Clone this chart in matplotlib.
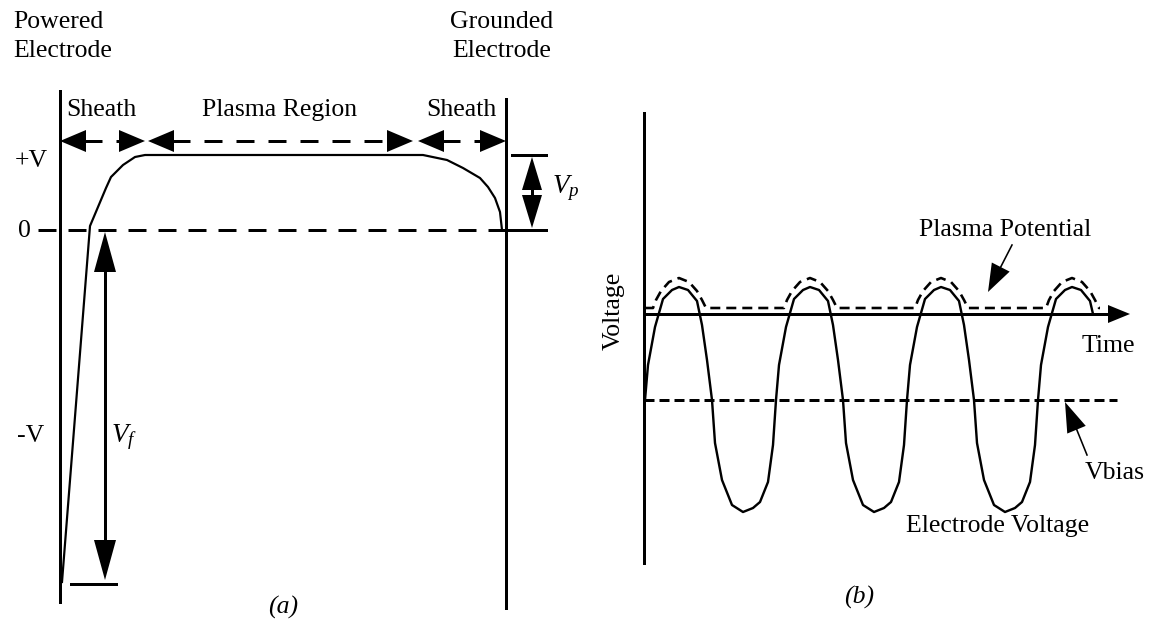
import numpy as np
import matplotlib
matplotlib.use("Agg")
import matplotlib.pyplot as plt
from matplotlib.patches import Polygon

plt.rcParams['font.family'] = ['Liberation Serif', 'DejaVu Serif']
plt.rcParams['mathtext.fontset'] = 'custom'
plt.rcParams['mathtext.rm'] = 'Liberation Serif'
plt.rcParams['mathtext.it'] = 'Liberation Serif:italic'
plt.rcParams['lines.scale_dashes'] = False

# ---- panel (a): potential profile between electrodes (pixel units) ----
profile_x = [62, 90, 106, 111, 123, 135, 145, 423, 447, 463, 480, 488, 495, 500, 502]
profile_y = [582, 226, 188, 177, 165, 157, 155, 155, 160, 168, 178, 187, 198, 212, 230]
level_plus_v = 155
level_zero = 230
level_bottom = 582
powered_x = 60
grounded_x = 506
region_labels = ['Sheath', 'Plasma Region', 'Sheath']
region_edges = [(60, 145), (148, 413), (418, 506)]

# ---- panel (b): rf waveform, one cycle ----
t0 = 645
period = 131
n_cycles = 4
cycle_dx = [0, 3, 10, 18, 27, 34, 43, 52, 57, 62, 67, 70, 77, 87, 98, 108, 115, 123, 128]
cycle_v = [400, 365, 327, 299, 290, 287, 290, 301, 325, 360, 400, 443, 480, 505, 512, 508, 502, 482, 445]
last_dx = [0, 3, 10, 18, 27, 34, 43, 52, 55]
last_v = [400, 365, 327, 299, 290, 287, 290, 301, 314]
# plasma potential: flat level with a bump over each peak
pp_level = 308
bump_dx = [8, 11, 16, 24, 34, 44, 52, 57, 61]
bump_v = [308, 300, 291, 282, 278, 282, 291, 300, 308]
pp_end = 1100
v_bias = 400
time_axis_y = 314

px = 0.72  # pixels -> points at dpi 100
LW = 3 * px

fig = plt.figure(figsize=(11.52, 6.26), dpi=100)
ax = fig.add_axes([0, 0, 1, 1])
ax.set_xlim(0, 1152)
ax.set_ylim(626, 0)
ax.axis('off')

FS = 18.5


def head(tip, d, length, half):
    d = np.asarray(d, float)
    d = d / np.hypot(*d)
    tip = np.asarray(tip, float)
    base = tip - d * length
    perp = np.array([-d[1], d[0]])
    ax.add_patch(Polygon([tip, base + perp * half, base - perp * half],
                         closed=True, color='black', lw=0))


def dashed(xs, ys, on, off, lw):
    ax.plot(xs, ys, color='black', lw=lw, dashes=(on * px, off * px),
            solid_capstyle='butt', dash_capstyle='butt')


# ===== panel (a) =====
ax.plot([powered_x, powered_x], [91, 602], color='black', lw=LW)
ax.plot([grounded_x, grounded_x], [99, 608], color='black', lw=LW)
ax.plot(profile_x, profile_y, color='black', lw=2.2 * px)

# zero line
dashed([38, grounded_x], [level_zero, level_zero], 18, 12, LW)

# region arrows
row_y = 141
for (x1, x2), lab in zip(region_edges, region_labels):
    head((x1, row_y), (-1, 0), 26, 11)
    head((x2, row_y), (1, 0), 26, 11)
    dashed([x1 + 24, x2 - 24], [row_y, row_y], 18, 14, LW)
    ax.text((x1 + x2) / 2 - 1, 116, lab, fontsize=FS, ha='center', va='baseline')

# Vp arrow
ax.plot([512, 546], [level_plus_v, level_plus_v], color='black', lw=LW)
ax.plot([493, 546], [level_zero, level_zero], color='black', lw=LW)
ax.plot([532, 532], [level_plus_v + 20, level_zero - 20], color='black', lw=LW)
head((532, level_plus_v + 2), (0, -1), 33, 10)
head((532, level_zero - 2), (0, 1), 33, 10)
ax.text(552, 193, r'$V_p$', fontsize=FS + 1, ha='left', va='baseline')

# Vf arrow
ax.plot([105, 105], [level_zero + 30, level_bottom - 30], color='black', lw=LW)
head((105, level_zero + 2), (0, -1), 40, 11)
head((105, level_bottom - 2), (0, 1), 40, 11)
ax.plot([71, 116], [level_bottom + 2, level_bottom + 2], color='black', lw=LW)
ax.text(111, 442, r'$V_f$', fontsize=FS + 1, ha='left', va='baseline')

ax.text(15, 167, '+V', fontsize=FS, ha='left', va='baseline')
ax.text(18, 237, '0', fontsize=FS, ha='left', va='baseline')
ax.text(17, 442, '-V', fontsize=FS, ha='left', va='baseline')
ax.text(13, 28, 'Powered', fontsize=FS, ha='left', va='baseline')
ax.text(13, 57, 'Electrode', fontsize=FS, ha='left', va='baseline')
ax.text(450, 28, 'Grounded', fontsize=FS, ha='left', va='baseline')
ax.text(452, 57, 'Electrode', fontsize=FS, ha='left', va='baseline')
ax.text(283, 607, '(a)', fontsize=FS, style='italic', ha='center', va='center')

# ===== panel (b) =====
ax.plot([644, 644], [113, 563], color='black', lw=LW)
ax.plot([644, 1112], [time_axis_y, time_axis_y], color='black', lw=LW)
head((1130, time_axis_y), (1, 0), 22, 9)

wx, wy = [], []
for k in range(n_cycles - 1):
    wx += [t0 + k * period + d for d in cycle_dx]
    wy += cycle_v
wx += [t0 + (n_cycles - 1) * period + d for d in last_dx]
wy += last_v
ax.plot(wx, wy, color='black', lw=2.4 * px, solid_joinstyle='round')

ppx, ppy = [t0], [pp_level]
for k in range(n_cycles):
    ppx += [t0 + k * period + d for d in bump_dx]
    ppy += bump_v
ppx.append(pp_end)
ppy.append(pp_level)
dashed(ppx, ppy, 10, 6, 2.6 * px)

dashed([644, 1117], [v_bias, v_bias], 10, 5, LW)

# pointers
ax.plot([1012, 993], [245, 282], color='black', lw=1.6 * px)
head((988, 292), (988 - 1012, 292 - 245), 28, 10)
ax.plot([1087, 1070], [455, 413], color='black', lw=1.6 * px)
head((1065, 402), (1065 - 1087, 402 - 455), 30, 10)

ax.text(1005, 236, 'Plasma Potential', fontsize=FS, ha='center', va='baseline')
ax.text(1082, 352, 'Time', fontsize=FS, ha='left', va='baseline')
ax.text(1085, 479, 'Vbias', fontsize=FS, ha='left', va='baseline')
ax.text(998, 532, 'Electrode Voltage', fontsize=FS, ha='center', va='baseline')
ax.text(614, 311, 'Voltage', fontsize=FS, rotation=90, ha='center', va='center')
ax.text(859, 597, '(b)', fontsize=FS, style='italic', ha='center', va='center')

fig.savefig('out.png', dpi=100)
